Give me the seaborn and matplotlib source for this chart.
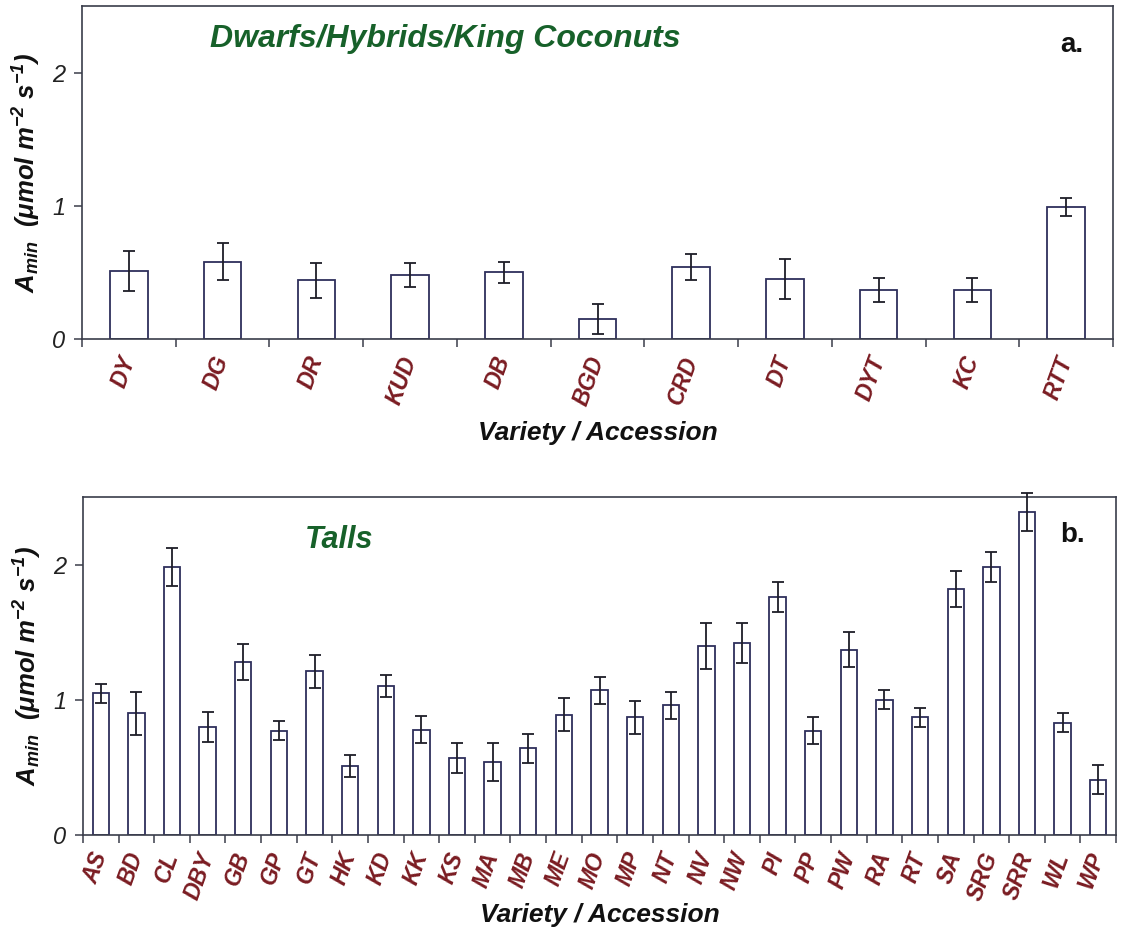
import numpy as np
import pandas as pd
import seaborn as sns
import matplotlib
matplotlib.use("Agg")
import matplotlib.pyplot as plt

# ---------------- data ----------------
dwarf_names = ["DY", "DG", "DR", "KUD", "DB", "BGD", "CRD", "DT", "DYT", "KC", "RTT"]
dwarf_means = [0.51, 0.58, 0.44, 0.48, 0.50, 0.15, 0.54, 0.45, 0.37, 0.37, 0.99]
dwarf_errs = [0.15, 0.14, 0.13, 0.09, 0.08, 0.11, 0.10, 0.15, 0.09, 0.09, 0.07]

tall_names = ["AS", "BD", "CL", "DBY", "GB", "GP", "GT", "HK", "KD", "KK", "KS",
              "MA", "MB", "ME", "MO", "MP", "NT", "NV", "NW", "PI", "PP", "PW",
              "RA", "RT", "SA", "SRG", "SRR", "WL", "WP"]
tall_means = [1.05, 0.90, 1.98, 0.80, 1.28, 0.77, 1.21, 0.51, 1.10, 0.78, 0.57,
              0.54, 0.64, 0.89, 1.07, 0.87, 0.96, 1.40, 1.42, 1.76, 0.77, 1.37,
              1.00, 0.87, 1.82, 1.98, 2.39, 0.83, 0.41]
tall_errs = [0.07, 0.16, 0.14, 0.11, 0.13, 0.07, 0.12, 0.08, 0.08, 0.10, 0.11,
             0.14, 0.11, 0.12, 0.10, 0.12, 0.10, 0.17, 0.15, 0.11, 0.10, 0.13,
             0.07, 0.07, 0.13, 0.11, 0.14, 0.07, 0.11]

y_ticks = [0, 1, 2]
panel_titles = ["Dwarfs/Hybrids/King Coconuts", "Talls"]
panel_letters = ["a.", "b."]
x_label = "Variety / Accession"
y_label = r"$A_{min}$  (μmol m$^{-2}$ s$^{-1}$)"

# ---------------- style ----------------
sns.set_style("ticks")
plt.rcParams['font.family'] = ['Liberation Sans', 'DejaVu Sans']
plt.rcParams['mathtext.fontset'] = 'custom'
plt.rcParams['mathtext.rm'] = 'Liberation Sans:style=italic:weight=bold'
plt.rcParams['mathtext.it'] = 'Liberation Sans:style=italic:weight=bold'
plt.rcParams['mathtext.bf'] = 'Liberation Sans:style=italic:weight=bold'

EDGE = "#2e2f5c"
SPINE = "#3a3d4a"
LABEL_RED = "#7a1c22"
GREEN = "#17612a"

W, H = 1127, 931
fig = plt.figure(figsize=(W / 100, H / 100), dpi=100)
ax1 = fig.add_axes([82 / W, 1 - 339 / H, (1113 - 82) / W, (339 - 6) / H])
ax2 = fig.add_axes([83 / W, 1 - 835 / H, (1116 - 83) / W, (835 - 497) / H])


def draw(ax, names, means, errs, width, title, title_xy, title_size,
         letter, letter_xy, xlab_y):
    df = pd.DataFrame({"variety": names, "value": means})
    sns.barplot(data=df, x="variety", y="value", ax=ax, color="white",
                saturation=1, edgecolor=EDGE, linewidth=1.3, width=width,
                errorbar=None)
    eb = ax.errorbar(np.arange(len(names)), means, yerr=errs, fmt="none",
                     ecolor="#1e1e28", elinewidth=1.3, capsize=4.5,
                     capthick=1.3, zorder=5)
    for art in list(eb.lines[1]) + list(eb.lines[2]):
        art.set_clip_on(False)
    n = len(names)
    ax.set_xlim(-0.5, n - 0.5)
    ax.set_ylim(0, 2.5)
    ax.set_yticks(y_ticks)
    ax.set_yticklabels([str(t) for t in y_ticks], fontsize=17, style="italic",
                       color="#222222")
    ax.set_xticks(np.arange(n))
    ax.set_xticklabels(names)
    ax.set_xticks(np.arange(n + 1) - 0.5, minor=True)
    ax.tick_params(axis="x", which="major", length=0, pad=13)
    ax.tick_params(axis="x", which="minor", length=6, width=1.1,
                   direction="out", color=SPINE)
    ax.tick_params(axis="y", which="major", length=6, width=1.1,
                   direction="out", color=SPINE, pad=6)
    for lbl in ax.get_xticklabels():
        lbl.set_rotation(70)
        lbl.set_ha("right")
        lbl.set_va("center")
        lbl.set_rotation_mode("anchor")
        lbl.set_color(LABEL_RED)
        lbl.set_fontweight("bold")
        lbl.set_fontstyle("italic")
        lbl.set_fontsize(16.5)
    for s in ax.spines.values():
        s.set_visible(True)
        s.set_color(SPINE)
        s.set_linewidth(1.2)
    ax.set_xlabel(x_label, fontsize=19, fontweight="bold", style="italic",
                  color="#111111")
    ax.xaxis.set_label_coords(0.5, xlab_y)
    ax.set_ylabel(y_label, fontsize=18.5, fontweight="bold", style="italic",
                  color="#111111")
    ax.yaxis.set_label_coords(-0.038, 0.5)
    ax.text(title_xy[0], title_xy[1], title, transform=ax.transAxes,
            ha="left", va="center", fontsize=title_size, fontweight="bold",
            style="italic", color=GREEN)
    ax.text(letter_xy[0], letter_xy[1], letter, transform=ax.transAxes,
            ha="left", va="center", fontsize=20, fontweight="bold",
            color="#111111")


draw(ax1, dwarf_names, dwarf_means, dwarf_errs, 0.4, panel_titles[0],
     (0.124, 0.90), 23, panel_letters[0], (0.949, 0.883), -0.245)
draw(ax2, tall_names, tall_means, tall_errs, 0.46, panel_titles[1],
     (0.215, 0.873), 22, panel_letters[1], (0.946, 0.888), -0.20)

fig.savefig("out.png", dpi=100)
